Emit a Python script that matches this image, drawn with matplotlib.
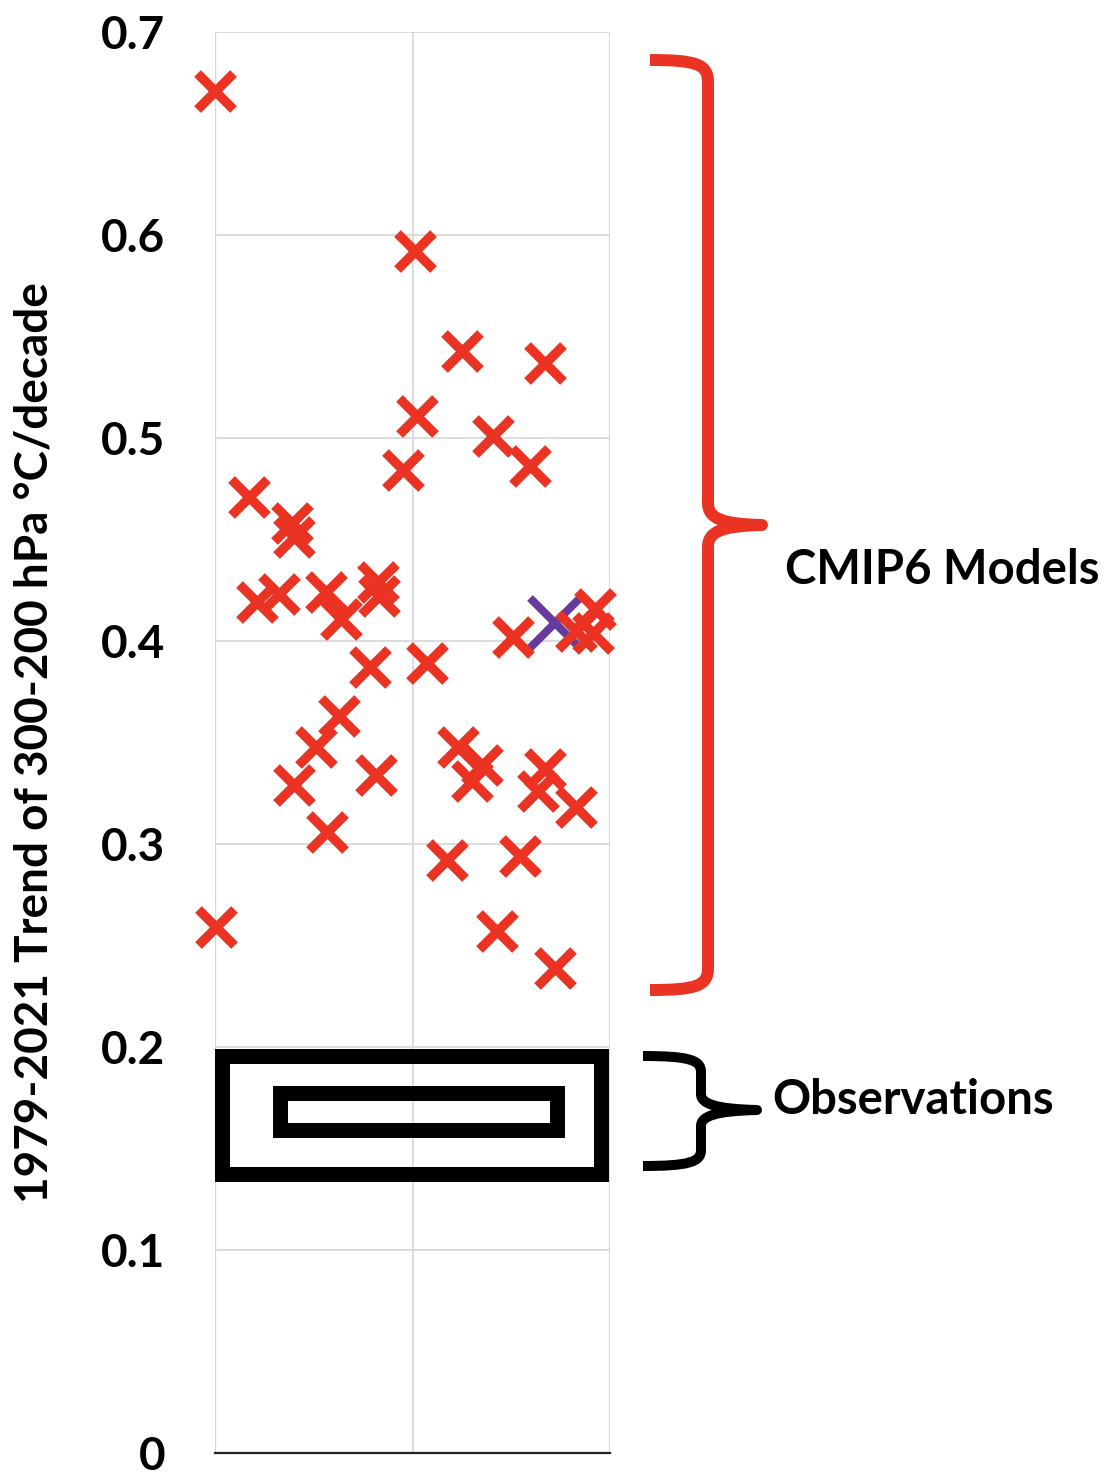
import matplotlib
matplotlib.use("Agg")
import matplotlib.pyplot as plt
from matplotlib.path import Path
from matplotlib.patches import PathPatch, Rectangle

plt.rcParams["font.family"] = ["Lato", "DejaVu Sans"]
plt.rcParams["font.weight"] = "bold"

# CMIP6 model trends (x is only a horizontal jitter position 0..2)
model_x = [0.00, 1.013, 1.249, 1.671, 1.021, 1.41, 1.595, 0.954, 0.172, 0.39,
           0.40, 0.214, 0.324, 0.56, 0.636, 0.827, 0.83, 0.785, 1.072, 1.51,
           1.924, 1.83, 1.915, 0.628, 0.51, 0.40, 0.814, 0.569, 0.003, 1.232,
           1.35, 1.30, 1.671, 1.637, 1.83, 1.173, 1.544, 1.426, 1.722]
model_y = [0.671, 0.592, 0.543, 0.537, 0.511, 0.501, 0.486, 0.484, 0.471, 0.458,
           0.451, 0.419, 0.423, 0.424, 0.411, 0.429, 0.422, 0.387, 0.389, 0.402,
           0.416, 0.405, 0.404, 0.363, 0.348, 0.329, 0.334, 0.306, 0.259, 0.348,
           0.339, 0.331, 0.337, 0.326, 0.318, 0.292, 0.294, 0.257, 0.239]
# highlighted model (purple)
hi_x = [1.72]
hi_y = [0.409]

# observation ranges: (x0, x1, y0, y1)
obs_outer = (0.035, 1.954, 0.1374, 0.1956)
obs_inner = (0.328, 1.734, 0.1590, 0.1774)

yticks = [0, 0.1, 0.2, 0.3, 0.4, 0.5, 0.6, 0.7]
ytick_labels = ["0", "0.1", "0.2", "0.3", "0.4", "0.5", "0.6", "0.7"]

RED = "#EA3323"
PURPLE = "#673A9E"
GRID = "#D9D9D9"

W, H = 1106, 1472
fig = plt.figure(figsize=(W / 100, H / 100), dpi=100)
ax = fig.add_axes([215 / W, 1 - 1453 / H, 395 / W, 1421 / H])
ax.set_xlim(0, 2)
ax.set_ylim(0, 0.7)

ax.set_yticks(yticks)
ax.set_yticklabels(ytick_labels)
ax.set_xticks([0, 1, 2])
ax.set_xticklabels([])
ax.tick_params(axis="both", length=0)
ax.tick_params(axis="y", labelsize=33, pad=36)
ax.grid(True, color=GRID, lw=1.3, zorder=0)
for s in ["top", "right", "left"]:
    ax.spines[s].set_visible(False)
ax.spines["bottom"].set_color("#222222")
ax.spines["bottom"].set_linewidth(1.6)
ax.axvline(0, color="#C4C4C4", lw=1.6, zorder=0.5)
ax.set_axisbelow(True)

ax.set_ylabel("1979-2021 Trend of 300-200 hPa \u00b0C/decade", fontsize=33,
              fontweight="bold")
ax.yaxis.set_label_coords(-0.405, 0.5)

ax.plot(hi_x, hi_y, ls="none", marker="x", ms=36, mew=5.8, color=PURPLE,
        zorder=3, clip_on=False)
ax.plot(model_x, model_y, ls="none", marker="x", ms=26, mew=6.8, color=RED,
        zorder=4, clip_on=False)

for (x0, x1, y0, y1) in [obs_outer, obs_inner]:
    ax.add_patch(Rectangle((x0, y0), x1 - x0, y1 - y0, fill=False, ec="black",
                           lw=10.8, joinstyle="miter", zorder=5))

# overlay in pixel coordinates for the braces and labels
ov = fig.add_axes([0, 0, 1, 1])
ov.set_xlim(0, W)
ov.set_ylim(H, 0)
ov.axis("off")
ov.patch.set_alpha(0)


def brace(x_end, x_v, x_tip, y_top, y_mid, y_bot, r):
    verts = [(x_end, y_top),
             (x_v - 12, y_top), (x_v, y_top + 4), (x_v, y_top + r),
             (x_v, y_mid - r),
             (x_v, y_mid - 6), (x_v + 15, y_mid - 1), (x_tip, y_mid),
             (x_v + 15, y_mid + 1), (x_v, y_mid + 6), (x_v, y_mid + r),
             (x_v, y_bot - r),
             (x_v, y_bot - 4), (x_v - 12, y_bot), (x_end, y_bot)]
    codes = [Path.MOVETO,
             Path.CURVE4, Path.CURVE4, Path.CURVE4,
             Path.LINETO,
             Path.CURVE4, Path.CURVE4, Path.CURVE4,
             Path.CURVE4, Path.CURVE4, Path.CURVE4,
             Path.LINETO,
             Path.CURVE4, Path.CURVE4, Path.CURVE4]
    return Path(verts, codes)


ov.add_patch(PathPatch(brace(650, 708, 762, 60, 525, 990, 22), fill=False,
                       ec=RED, lw=8.6, joinstyle="round", capstyle="butt"))
ov.add_patch(PathPatch(brace(643, 701, 757, 1056, 1110, 1166, 16), fill=False,
                       ec="black", lw=7.2, joinstyle="round", capstyle="butt"))

ov.text(785, 570, "CMIP6 Models", fontsize=34, fontweight="bold", ha="left",
        va="center", color="black")
ov.text(772, 1100, "Observations", fontsize=34, fontweight="bold", ha="left",
        va="center", color="black")

fig.savefig("out.png", dpi=100, facecolor="white")
